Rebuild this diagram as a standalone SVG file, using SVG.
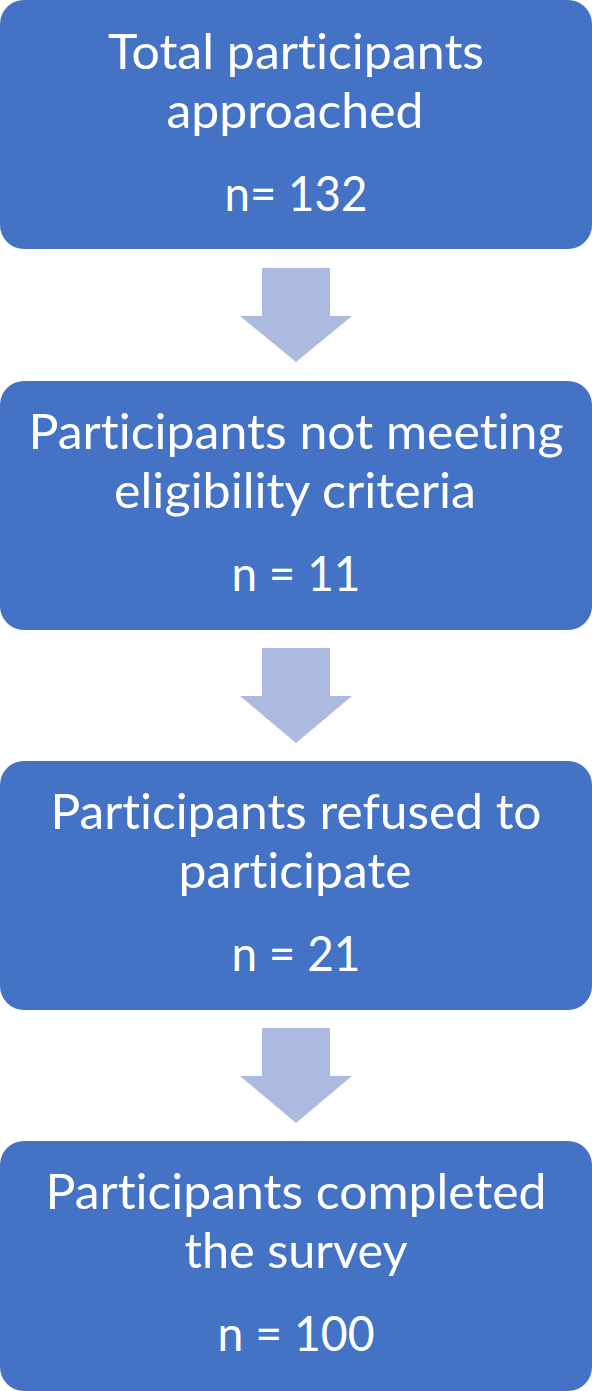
<svg xmlns="http://www.w3.org/2000/svg" width="592" height="1391" viewBox="0 0 592 1391">
<style>
.box{fill:#4472C4;}
.arr{fill:#ADBADF;}
.t{font-family:Lato,"Open Sans","Liberation Sans",sans-serif;font-size:49px;fill:#FFFFFF;text-anchor:middle;font-variant-ligatures:none;}
</style>
<rect width="592" height="1391" fill="#FFFFFF"/>
<g id="connectors">
<polygon class="arr" points="262,268 330,268 330,316 352,316 296,362 240,316 262,316"/>
<polygon class="arr" points="262,648 330,648 330,696 352,696 296,743 240,696 262,696"/>
<polygon class="arr" points="262,1028 330,1028 330,1076 352,1076 296,1123 240,1076 262,1076"/>
</g>
<g id="node1">
<rect class="box" x="0" y="0" width="592" height="249" rx="24"/>
<text class="t" x="296" y="69" textLength="376" lengthAdjust="spacingAndGlyphs">Total participants</text>
<text class="t" x="295" y="128" textLength="257" lengthAdjust="spacingAndGlyphs">approached</text>
<text class="t" x="296" y="211" textLength="143" lengthAdjust="spacingAndGlyphs">n= 132</text>
</g>
<g id="node2">
<rect class="box" x="0" y="381" width="592" height="249" rx="24"/>
<text class="t" x="296" y="449" textLength="535" lengthAdjust="spacingAndGlyphs">Participants not meeting</text>
<text class="t" x="295" y="508" textLength="362" lengthAdjust="spacingAndGlyphs">eligibility criteria</text>
<text class="t" x="296" y="591" textLength="129" lengthAdjust="spacingAndGlyphs">n = 11</text>
</g>
<g id="node3">
<rect class="box" x="0" y="761" width="592" height="249" rx="24"/>
<text class="t" x="296" y="829" textLength="491" lengthAdjust="spacingAndGlyphs">Participants refused to</text>
<text class="t" x="295" y="888" textLength="233" lengthAdjust="spacingAndGlyphs">participate</text>
<text class="t" x="296" y="971" textLength="129" lengthAdjust="spacingAndGlyphs">n = 21</text>
</g>
<g id="node4">
<rect class="box" x="0" y="1141" width="592" height="250" rx="24"/>
<text class="t" x="296" y="1209" textLength="501" lengthAdjust="spacingAndGlyphs">Participants completed</text>
<text class="t" x="296" y="1268" textLength="223" lengthAdjust="spacingAndGlyphs">the survey</text>
<text class="t" x="296" y="1351" textLength="157" lengthAdjust="spacingAndGlyphs">n = 100</text>
</g>
</svg>
